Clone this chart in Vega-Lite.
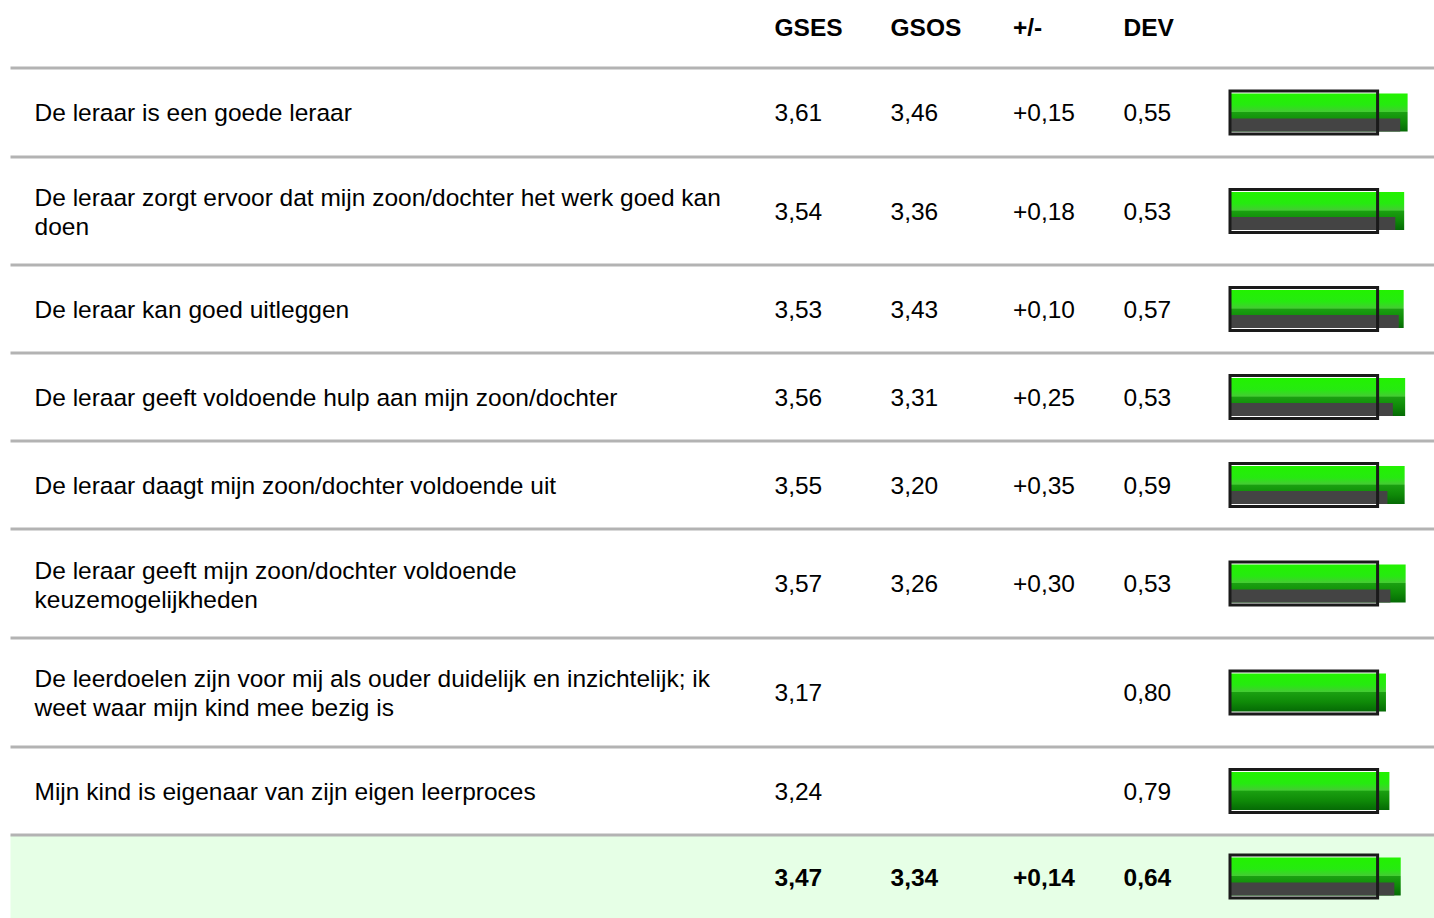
{
  "$schema": "https://vega.github.io/schema/vega-lite/v6.json",
  "padding": {"left": 8.5, "top": 0, "right": 0, "bottom": 0},
  "bounds": "flush",
  "spacing": 0,
  "background": "#ffffff",
  "config": {
    "view": {"stroke": null},
    "axis": {"disable": true},
    "concat": {"spacing": 0},
    "locale": {"number": {"decimal": ",", "thousands": ".", "grouping": [3], "currency": ["€", ""]}},
    "text": {"font": "Liberation Sans", "fontSize": 24.5, "color": "#000000", "align": "left", "baseline": "middle", "lineBreak": "\n", "lineHeight": 29, "dy": 1.5},
    "rule": {"color": "#b3b3b3", "strokeWidth": 3}
  },
  "data": {"values": [
    {"row": 1, "label": "De leraar is een goede leraar", "GSES": 3.61, "GSOS": 3.46, "diff": 0.15, "DEV": 0.55},
    {"row": 2, "label": "De leraar zorgt ervoor dat mijn zoon/dochter het werk goed kan\ndoen", "GSES": 3.54, "GSOS": 3.36, "diff": 0.18, "DEV": 0.53},
    {"row": 3, "label": "De leraar kan goed uitleggen", "GSES": 3.53, "GSOS": 3.43, "diff": 0.10, "DEV": 0.57},
    {"row": 4, "label": "De leraar geeft voldoende hulp aan mijn zoon/dochter", "GSES": 3.56, "GSOS": 3.31, "diff": 0.25, "DEV": 0.53},
    {"row": 5, "label": "De leraar daagt mijn zoon/dochter voldoende uit", "GSES": 3.55, "GSOS": 3.20, "diff": 0.35, "DEV": 0.59},
    {"row": 6, "label": "De leraar geeft mijn zoon/dochter voldoende\nkeuzemogelijkheden", "GSES": 3.57, "GSOS": 3.26, "diff": 0.30, "DEV": 0.53},
    {"row": 7, "label": "De leerdoelen zijn voor mij als ouder duidelijk en inzichtelijk; ik\nweet waar mijn kind mee bezig is", "GSES": 3.17, "GSOS": null, "diff": null, "DEV": 0.80},
    {"row": 8, "label": "Mijn kind is eigenaar van zijn eigen leerproces", "GSES": 3.24, "GSOS": null, "diff": null, "DEV": 0.79},
    {"row": 9, "label": "", "GSES": 3.47, "GSOS": 3.34, "diff": 0.14, "DEV": 0.64}
  ]},
  "vconcat": [
    {
      "width": 1424, "height": 68,
      "data": {"values": [{"col": 1, "title": "GSES"}, {"col": 2, "title": "GSOS"}, {"col": 3, "title": "+/-"}, {"col": 4, "title": "DEV"}]},
      "mark": {"type": "text", "fontWeight": "bold", "dy": -5},
      "encoding": {
        "x": {"field": "col", "type": "quantitative", "axis": null, "scale": {"domain": [0, 1, 2, 3, 4], "range": [24, 764, 880, 1002.5, 1113], "nice": false, "zero": false}},
        "text": {"field": "title"}
      }
    },
    {
      "width": 1424, "height": 89,
      "transform": [{"filter": "datum.row == 1"}],
      "encoding": {"y": {"field": "row", "type": "nominal", "axis": null, "scale": {"paddingInner": 0, "paddingOuter": 0}}},
      "resolve": {"scale": {"x": "independent"}},
      "layer": [
        {"mark": "rule", "encoding": {"y": {"field": "row", "type": "nominal", "axis": null, "bandPosition": 0}}},
        {"layer": [
          {"mark": "text", "encoding": {"x": {"datum": 0, "type": "quantitative", "axis": null, "scale": {"domain": [0, 1, 2, 3, 4], "range": [24, 764, 880, 1002.5, 1113], "nice": false, "zero": false}}, "text": {"field": "label"}}},
          {"mark": "text", "encoding": {"x": {"datum": 1, "type": "quantitative"}, "text": {"field": "GSES", "type": "quantitative", "format": ".2f"}}},
          {"mark": "text", "encoding": {"x": {"datum": 2, "type": "quantitative"}, "text": {"field": "GSOS", "type": "quantitative", "format": ".2f"}}},
          {"mark": "text", "encoding": {"x": {"datum": 3, "type": "quantitative"}, "text": {"field": "diff", "type": "quantitative", "format": "+.2f"}}},
          {"mark": "text", "encoding": {"x": {"datum": 4, "type": "quantitative"}, "text": {"field": "DEV", "type": "quantitative", "format": ".2f"}}}
        ]},
        {"layer": [
          {"mark": {"type": "bar", "height": 38, "fill": {"gradient": "linear", "x1": 0, "y1": 0, "x2": 0, "y2": 1, "stops": [{"offset": 0, "color": "#22f200"}, {"offset": 0.3, "color": "#26ea10"}, {"offset": 0.48, "color": "#44cc33"}, {"offset": 0.5, "color": "#1aa010"}, {"offset": 0.75, "color": "#0f8a08"}, {"offset": 1, "color": "#056a05"}]}}, "encoding": {"x": {"field": "GSES", "type": "quantitative", "axis": null, "scale": {"domain": [0, 4], "range": [1219.5, 1416.3], "nice": false}}}},
          {"mark": {"type": "bar", "height": 13, "yOffset": 12.5, "color": "#444444"}, "encoding": {"x": {"field": "GSOS", "type": "quantitative"}}},
          {"mark": {"type": "bar", "height": 40, "fillOpacity": 0, "stroke": "#ffffff", "strokeWidth": 1}, "encoding": {"x": {"datum": 3, "type": "quantitative"}}},
          {"mark": {"type": "bar", "height": 43, "fillOpacity": 0, "stroke": "#1a1a1a", "strokeWidth": 3}, "encoding": {"x": {"datum": 3, "type": "quantitative"}}}
        ]}
      ]
    },
    {
      "width": 1424, "height": 108,
      "transform": [{"filter": "datum.row == 2"}],
      "encoding": {"y": {"field": "row", "type": "nominal", "axis": null, "scale": {"paddingInner": 0, "paddingOuter": 0}}},
      "resolve": {"scale": {"x": "independent"}},
      "layer": [
        {"mark": "rule", "encoding": {"y": {"field": "row", "type": "nominal", "axis": null, "bandPosition": 0}}},
        {"layer": [
          {"mark": {"type": "text", "dy": -12}, "encoding": {"x": {"datum": 0, "type": "quantitative", "axis": null, "scale": {"domain": [0, 1, 2, 3, 4], "range": [24, 764, 880, 1002.5, 1113], "nice": false, "zero": false}}, "text": {"field": "label"}}},
          {"mark": "text", "encoding": {"x": {"datum": 1, "type": "quantitative"}, "text": {"field": "GSES", "type": "quantitative", "format": ".2f"}}},
          {"mark": "text", "encoding": {"x": {"datum": 2, "type": "quantitative"}, "text": {"field": "GSOS", "type": "quantitative", "format": ".2f"}}},
          {"mark": "text", "encoding": {"x": {"datum": 3, "type": "quantitative"}, "text": {"field": "diff", "type": "quantitative", "format": "+.2f"}}},
          {"mark": "text", "encoding": {"x": {"datum": 4, "type": "quantitative"}, "text": {"field": "DEV", "type": "quantitative", "format": ".2f"}}}
        ]},
        {"layer": [
          {"mark": {"type": "bar", "height": 38, "fill": {"gradient": "linear", "x1": 0, "y1": 0, "x2": 0, "y2": 1, "stops": [{"offset": 0, "color": "#22f200"}, {"offset": 0.3, "color": "#26ea10"}, {"offset": 0.48, "color": "#44cc33"}, {"offset": 0.5, "color": "#1aa010"}, {"offset": 0.75, "color": "#0f8a08"}, {"offset": 1, "color": "#056a05"}]}}, "encoding": {"x": {"field": "GSES", "type": "quantitative", "axis": null, "scale": {"domain": [0, 4], "range": [1219.5, 1416.3], "nice": false}}}},
          {"mark": {"type": "bar", "height": 13, "yOffset": 12.5, "color": "#444444"}, "encoding": {"x": {"field": "GSOS", "type": "quantitative"}}},
          {"mark": {"type": "bar", "height": 40, "fillOpacity": 0, "stroke": "#ffffff", "strokeWidth": 1}, "encoding": {"x": {"datum": 3, "type": "quantitative"}}},
          {"mark": {"type": "bar", "height": 43, "fillOpacity": 0, "stroke": "#1a1a1a", "strokeWidth": 3}, "encoding": {"x": {"datum": 3, "type": "quantitative"}}}
        ]}
      ]
    },
    {
      "width": 1424, "height": 88,
      "transform": [{"filter": "datum.row == 3"}],
      "encoding": {"y": {"field": "row", "type": "nominal", "axis": null, "scale": {"paddingInner": 0, "paddingOuter": 0}}},
      "resolve": {"scale": {"x": "independent"}},
      "layer": [
        {"mark": "rule", "encoding": {"y": {"field": "row", "type": "nominal", "axis": null, "bandPosition": 0}}},
        {"layer": [
          {"mark": "text", "encoding": {"x": {"datum": 0, "type": "quantitative", "axis": null, "scale": {"domain": [0, 1, 2, 3, 4], "range": [24, 764, 880, 1002.5, 1113], "nice": false, "zero": false}}, "text": {"field": "label"}}},
          {"mark": "text", "encoding": {"x": {"datum": 1, "type": "quantitative"}, "text": {"field": "GSES", "type": "quantitative", "format": ".2f"}}},
          {"mark": "text", "encoding": {"x": {"datum": 2, "type": "quantitative"}, "text": {"field": "GSOS", "type": "quantitative", "format": ".2f"}}},
          {"mark": "text", "encoding": {"x": {"datum": 3, "type": "quantitative"}, "text": {"field": "diff", "type": "quantitative", "format": "+.2f"}}},
          {"mark": "text", "encoding": {"x": {"datum": 4, "type": "quantitative"}, "text": {"field": "DEV", "type": "quantitative", "format": ".2f"}}}
        ]},
        {"layer": [
          {"mark": {"type": "bar", "height": 38, "fill": {"gradient": "linear", "x1": 0, "y1": 0, "x2": 0, "y2": 1, "stops": [{"offset": 0, "color": "#22f200"}, {"offset": 0.3, "color": "#26ea10"}, {"offset": 0.48, "color": "#44cc33"}, {"offset": 0.5, "color": "#1aa010"}, {"offset": 0.75, "color": "#0f8a08"}, {"offset": 1, "color": "#056a05"}]}}, "encoding": {"x": {"field": "GSES", "type": "quantitative", "axis": null, "scale": {"domain": [0, 4], "range": [1219.5, 1416.3], "nice": false}}}},
          {"mark": {"type": "bar", "height": 13, "yOffset": 12.5, "color": "#444444"}, "encoding": {"x": {"field": "GSOS", "type": "quantitative"}}},
          {"mark": {"type": "bar", "height": 40, "fillOpacity": 0, "stroke": "#ffffff", "strokeWidth": 1}, "encoding": {"x": {"datum": 3, "type": "quantitative"}}},
          {"mark": {"type": "bar", "height": 43, "fillOpacity": 0, "stroke": "#1a1a1a", "strokeWidth": 3}, "encoding": {"x": {"datum": 3, "type": "quantitative"}}}
        ]}
      ]
    },
    {
      "width": 1424, "height": 88,
      "transform": [{"filter": "datum.row == 4"}],
      "encoding": {"y": {"field": "row", "type": "nominal", "axis": null, "scale": {"paddingInner": 0, "paddingOuter": 0}}},
      "resolve": {"scale": {"x": "independent"}},
      "layer": [
        {"mark": "rule", "encoding": {"y": {"field": "row", "type": "nominal", "axis": null, "bandPosition": 0}}},
        {"layer": [
          {"mark": "text", "encoding": {"x": {"datum": 0, "type": "quantitative", "axis": null, "scale": {"domain": [0, 1, 2, 3, 4], "range": [24, 764, 880, 1002.5, 1113], "nice": false, "zero": false}}, "text": {"field": "label"}}},
          {"mark": "text", "encoding": {"x": {"datum": 1, "type": "quantitative"}, "text": {"field": "GSES", "type": "quantitative", "format": ".2f"}}},
          {"mark": "text", "encoding": {"x": {"datum": 2, "type": "quantitative"}, "text": {"field": "GSOS", "type": "quantitative", "format": ".2f"}}},
          {"mark": "text", "encoding": {"x": {"datum": 3, "type": "quantitative"}, "text": {"field": "diff", "type": "quantitative", "format": "+.2f"}}},
          {"mark": "text", "encoding": {"x": {"datum": 4, "type": "quantitative"}, "text": {"field": "DEV", "type": "quantitative", "format": ".2f"}}}
        ]},
        {"layer": [
          {"mark": {"type": "bar", "height": 38, "fill": {"gradient": "linear", "x1": 0, "y1": 0, "x2": 0, "y2": 1, "stops": [{"offset": 0, "color": "#22f200"}, {"offset": 0.3, "color": "#26ea10"}, {"offset": 0.48, "color": "#44cc33"}, {"offset": 0.5, "color": "#1aa010"}, {"offset": 0.75, "color": "#0f8a08"}, {"offset": 1, "color": "#056a05"}]}}, "encoding": {"x": {"field": "GSES", "type": "quantitative", "axis": null, "scale": {"domain": [0, 4], "range": [1219.5, 1416.3], "nice": false}}}},
          {"mark": {"type": "bar", "height": 13, "yOffset": 12.5, "color": "#444444"}, "encoding": {"x": {"field": "GSOS", "type": "quantitative"}}},
          {"mark": {"type": "bar", "height": 40, "fillOpacity": 0, "stroke": "#ffffff", "strokeWidth": 1}, "encoding": {"x": {"datum": 3, "type": "quantitative"}}},
          {"mark": {"type": "bar", "height": 43, "fillOpacity": 0, "stroke": "#1a1a1a", "strokeWidth": 3}, "encoding": {"x": {"datum": 3, "type": "quantitative"}}}
        ]}
      ]
    },
    {
      "width": 1424, "height": 88,
      "transform": [{"filter": "datum.row == 5"}],
      "encoding": {"y": {"field": "row", "type": "nominal", "axis": null, "scale": {"paddingInner": 0, "paddingOuter": 0}}},
      "resolve": {"scale": {"x": "independent"}},
      "layer": [
        {"mark": "rule", "encoding": {"y": {"field": "row", "type": "nominal", "axis": null, "bandPosition": 0}}},
        {"layer": [
          {"mark": "text", "encoding": {"x": {"datum": 0, "type": "quantitative", "axis": null, "scale": {"domain": [0, 1, 2, 3, 4], "range": [24, 764, 880, 1002.5, 1113], "nice": false, "zero": false}}, "text": {"field": "label"}}},
          {"mark": "text", "encoding": {"x": {"datum": 1, "type": "quantitative"}, "text": {"field": "GSES", "type": "quantitative", "format": ".2f"}}},
          {"mark": "text", "encoding": {"x": {"datum": 2, "type": "quantitative"}, "text": {"field": "GSOS", "type": "quantitative", "format": ".2f"}}},
          {"mark": "text", "encoding": {"x": {"datum": 3, "type": "quantitative"}, "text": {"field": "diff", "type": "quantitative", "format": "+.2f"}}},
          {"mark": "text", "encoding": {"x": {"datum": 4, "type": "quantitative"}, "text": {"field": "DEV", "type": "quantitative", "format": ".2f"}}}
        ]},
        {"layer": [
          {"mark": {"type": "bar", "height": 38, "fill": {"gradient": "linear", "x1": 0, "y1": 0, "x2": 0, "y2": 1, "stops": [{"offset": 0, "color": "#22f200"}, {"offset": 0.3, "color": "#26ea10"}, {"offset": 0.48, "color": "#44cc33"}, {"offset": 0.5, "color": "#1aa010"}, {"offset": 0.75, "color": "#0f8a08"}, {"offset": 1, "color": "#056a05"}]}}, "encoding": {"x": {"field": "GSES", "type": "quantitative", "axis": null, "scale": {"domain": [0, 4], "range": [1219.5, 1416.3], "nice": false}}}},
          {"mark": {"type": "bar", "height": 13, "yOffset": 12.5, "color": "#444444"}, "encoding": {"x": {"field": "GSOS", "type": "quantitative"}}},
          {"mark": {"type": "bar", "height": 40, "fillOpacity": 0, "stroke": "#ffffff", "strokeWidth": 1}, "encoding": {"x": {"datum": 3, "type": "quantitative"}}},
          {"mark": {"type": "bar", "height": 43, "fillOpacity": 0, "stroke": "#1a1a1a", "strokeWidth": 3}, "encoding": {"x": {"datum": 3, "type": "quantitative"}}}
        ]}
      ]
    },
    {
      "width": 1424, "height": 109,
      "transform": [{"filter": "datum.row == 6"}],
      "encoding": {"y": {"field": "row", "type": "nominal", "axis": null, "scale": {"paddingInner": 0, "paddingOuter": 0}}},
      "resolve": {"scale": {"x": "independent"}},
      "layer": [
        {"mark": "rule", "encoding": {"y": {"field": "row", "type": "nominal", "axis": null, "bandPosition": 0}}},
        {"layer": [
          {"mark": {"type": "text", "dy": -12}, "encoding": {"x": {"datum": 0, "type": "quantitative", "axis": null, "scale": {"domain": [0, 1, 2, 3, 4], "range": [24, 764, 880, 1002.5, 1113], "nice": false, "zero": false}}, "text": {"field": "label"}}},
          {"mark": "text", "encoding": {"x": {"datum": 1, "type": "quantitative"}, "text": {"field": "GSES", "type": "quantitative", "format": ".2f"}}},
          {"mark": "text", "encoding": {"x": {"datum": 2, "type": "quantitative"}, "text": {"field": "GSOS", "type": "quantitative", "format": ".2f"}}},
          {"mark": "text", "encoding": {"x": {"datum": 3, "type": "quantitative"}, "text": {"field": "diff", "type": "quantitative", "format": "+.2f"}}},
          {"mark": "text", "encoding": {"x": {"datum": 4, "type": "quantitative"}, "text": {"field": "DEV", "type": "quantitative", "format": ".2f"}}}
        ]},
        {"layer": [
          {"mark": {"type": "bar", "height": 38, "fill": {"gradient": "linear", "x1": 0, "y1": 0, "x2": 0, "y2": 1, "stops": [{"offset": 0, "color": "#22f200"}, {"offset": 0.3, "color": "#26ea10"}, {"offset": 0.48, "color": "#44cc33"}, {"offset": 0.5, "color": "#1aa010"}, {"offset": 0.75, "color": "#0f8a08"}, {"offset": 1, "color": "#056a05"}]}}, "encoding": {"x": {"field": "GSES", "type": "quantitative", "axis": null, "scale": {"domain": [0, 4], "range": [1219.5, 1416.3], "nice": false}}}},
          {"mark": {"type": "bar", "height": 13, "yOffset": 12.5, "color": "#444444"}, "encoding": {"x": {"field": "GSOS", "type": "quantitative"}}},
          {"mark": {"type": "bar", "height": 40, "fillOpacity": 0, "stroke": "#ffffff", "strokeWidth": 1}, "encoding": {"x": {"datum": 3, "type": "quantitative"}}},
          {"mark": {"type": "bar", "height": 43, "fillOpacity": 0, "stroke": "#1a1a1a", "strokeWidth": 3}, "encoding": {"x": {"datum": 3, "type": "quantitative"}}}
        ]}
      ]
    },
    {
      "width": 1424, "height": 109,
      "transform": [{"filter": "datum.row == 7"}],
      "encoding": {"y": {"field": "row", "type": "nominal", "axis": null, "scale": {"paddingInner": 0, "paddingOuter": 0}}},
      "resolve": {"scale": {"x": "independent"}},
      "layer": [
        {"mark": "rule", "encoding": {"y": {"field": "row", "type": "nominal", "axis": null, "bandPosition": 0}}},
        {"layer": [
          {"mark": {"type": "text", "dy": -12.5}, "encoding": {"x": {"datum": 0, "type": "quantitative", "axis": null, "scale": {"domain": [0, 1, 2, 3, 4], "range": [24, 764, 880, 1002.5, 1113], "nice": false, "zero": false}}, "text": {"field": "label"}}},
          {"mark": "text", "encoding": {"x": {"datum": 1, "type": "quantitative"}, "text": {"field": "GSES", "type": "quantitative", "format": ".2f"}}},
          {"mark": "text", "encoding": {"x": {"datum": 4, "type": "quantitative"}, "text": {"field": "DEV", "type": "quantitative", "format": ".2f"}}}
        ]},
        {"layer": [
          {"mark": {"type": "bar", "height": 38, "fill": {"gradient": "linear", "x1": 0, "y1": 0, "x2": 0, "y2": 1, "stops": [{"offset": 0, "color": "#22f200"}, {"offset": 0.3, "color": "#26ea10"}, {"offset": 0.48, "color": "#44cc33"}, {"offset": 0.5, "color": "#1aa010"}, {"offset": 0.75, "color": "#0f8a08"}, {"offset": 1, "color": "#056a05"}]}}, "encoding": {"x": {"field": "GSES", "type": "quantitative", "axis": null, "scale": {"domain": [0, 4], "range": [1219.5, 1416.3], "nice": false}}}},
          {"mark": {"type": "bar", "height": 40, "fillOpacity": 0, "stroke": "#ffffff", "strokeWidth": 1}, "encoding": {"x": {"datum": 3, "type": "quantitative"}}},
          {"mark": {"type": "bar", "height": 43, "fillOpacity": 0, "stroke": "#1a1a1a", "strokeWidth": 3}, "encoding": {"x": {"datum": 3, "type": "quantitative"}}}
        ]}
      ]
    },
    {
      "width": 1424, "height": 88,
      "transform": [{"filter": "datum.row == 8"}],
      "encoding": {"y": {"field": "row", "type": "nominal", "axis": null, "scale": {"paddingInner": 0, "paddingOuter": 0}}},
      "resolve": {"scale": {"x": "independent"}},
      "layer": [
        {"mark": "rule", "encoding": {"y": {"field": "row", "type": "nominal", "axis": null, "bandPosition": 0}}},
        {"layer": [
          {"mark": "text", "encoding": {"x": {"datum": 0, "type": "quantitative", "axis": null, "scale": {"domain": [0, 1, 2, 3, 4], "range": [24, 764, 880, 1002.5, 1113], "nice": false, "zero": false}}, "text": {"field": "label"}}},
          {"mark": "text", "encoding": {"x": {"datum": 1, "type": "quantitative"}, "text": {"field": "GSES", "type": "quantitative", "format": ".2f"}}},
          {"mark": "text", "encoding": {"x": {"datum": 4, "type": "quantitative"}, "text": {"field": "DEV", "type": "quantitative", "format": ".2f"}}}
        ]},
        {"layer": [
          {"mark": {"type": "bar", "height": 38, "fill": {"gradient": "linear", "x1": 0, "y1": 0, "x2": 0, "y2": 1, "stops": [{"offset": 0, "color": "#22f200"}, {"offset": 0.3, "color": "#26ea10"}, {"offset": 0.48, "color": "#44cc33"}, {"offset": 0.5, "color": "#1aa010"}, {"offset": 0.75, "color": "#0f8a08"}, {"offset": 1, "color": "#056a05"}]}}, "encoding": {"x": {"field": "GSES", "type": "quantitative", "axis": null, "scale": {"domain": [0, 4], "range": [1219.5, 1416.3], "nice": false}}}},
          {"mark": {"type": "bar", "height": 40, "fillOpacity": 0, "stroke": "#ffffff", "strokeWidth": 1}, "encoding": {"x": {"datum": 3, "type": "quantitative"}}},
          {"mark": {"type": "bar", "height": 43, "fillOpacity": 0, "stroke": "#1a1a1a", "strokeWidth": 3}, "encoding": {"x": {"datum": 3, "type": "quantitative"}}}
        ]}
      ]
    },
    {
      "width": 1424, "height": 83,
      "view": {"fill": "#e6ffe6", "stroke": null},
      "transform": [{"filter": "datum.row == 9"}],
      "encoding": {"y": {"field": "row", "type": "nominal", "axis": null, "scale": {"paddingInner": 0, "paddingOuter": 0}}},
      "resolve": {"scale": {"x": "independent"}},
      "layer": [
        {"mark": "rule", "encoding": {"y": {"field": "row", "type": "nominal", "axis": null, "bandPosition": 0}}},
        {"layer": [
          {"mark": {"type": "text", "fontWeight": "bold", "dy": 2.5}, "encoding": {"x": {"datum": 1, "type": "quantitative", "axis": null, "scale": {"domain": [0, 1, 2, 3, 4], "range": [24, 764, 880, 1002.5, 1113], "nice": false, "zero": false}}, "text": {"field": "GSES", "type": "quantitative", "format": ".2f"}}},
          {"mark": {"type": "text", "fontWeight": "bold", "dy": 2.5}, "encoding": {"x": {"datum": 2, "type": "quantitative"}, "text": {"field": "GSOS", "type": "quantitative", "format": ".2f"}}},
          {"mark": {"type": "text", "fontWeight": "bold", "dy": 2.5}, "encoding": {"x": {"datum": 3, "type": "quantitative"}, "text": {"field": "diff", "type": "quantitative", "format": "+.2f"}}},
          {"mark": {"type": "text", "fontWeight": "bold", "dy": 2.5}, "encoding": {"x": {"datum": 4, "type": "quantitative"}, "text": {"field": "DEV", "type": "quantitative", "format": ".2f"}}}
        ]},
        {"layer": [
          {"mark": {"type": "bar", "height": 38, "fill": {"gradient": "linear", "x1": 0, "y1": 0, "x2": 0, "y2": 1, "stops": [{"offset": 0, "color": "#22f200"}, {"offset": 0.3, "color": "#26ea10"}, {"offset": 0.48, "color": "#44cc33"}, {"offset": 0.5, "color": "#1aa010"}, {"offset": 0.75, "color": "#0f8a08"}, {"offset": 1, "color": "#056a05"}]}}, "encoding": {"x": {"field": "GSES", "type": "quantitative", "axis": null, "scale": {"domain": [0, 4], "range": [1219.5, 1416.3], "nice": false}}}},
          {"mark": {"type": "bar", "height": 13, "yOffset": 12.5, "color": "#444444"}, "encoding": {"x": {"field": "GSOS", "type": "quantitative"}}},
          {"mark": {"type": "bar", "height": 40, "fillOpacity": 0, "stroke": "#ffffff", "strokeWidth": 1}, "encoding": {"x": {"datum": 3, "type": "quantitative"}}},
          {"mark": {"type": "bar", "height": 43, "fillOpacity": 0, "stroke": "#1a1a1a", "strokeWidth": 3}, "encoding": {"x": {"datum": 3, "type": "quantitative"}}}
        ]}
      ]
    }
  ]
}
